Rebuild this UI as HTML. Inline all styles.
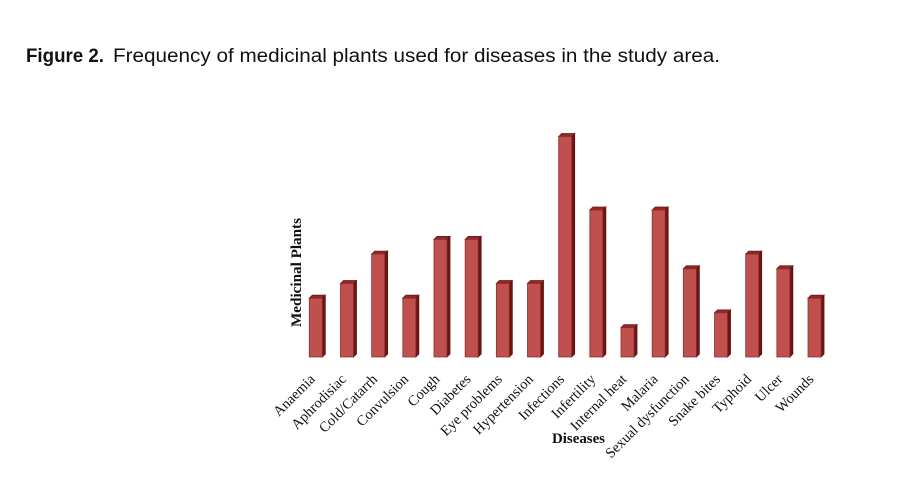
<!DOCTYPE html>
<html>
<head>
<meta charset="utf-8">
<style>
  html, body { margin:0; padding:0; background:#ffffff; }
  body { width:898px; height:491px; overflow:hidden; }
  svg { display:block; }
</style>
</head>
<body>
<svg width="898" height="491" viewBox="0 0 898 491" xmlns="http://www.w3.org/2000/svg">
  <rect x="0" y="0" width="898" height="491" fill="#ffffff"/>
  <!-- Title -->
  <text x="26" y="62" font-family="Liberation Sans, sans-serif" font-size="19" font-weight="bold" fill="#111" textLength="78" lengthAdjust="spacingAndGlyphs">Figure 2.</text>
  <text x="113" y="62" font-family="Liberation Sans, sans-serif" font-size="19" fill="#111" textLength="607" lengthAdjust="spacingAndGlyphs">Frequency of medicinal plants used for diseases in the study area.</text>

  <!-- Y axis label -->
  <text transform="translate(301,272.5) rotate(-90)" text-anchor="middle" font-family="Liberation Serif, serif" font-size="14.5" font-weight="bold" fill="#111" textLength="109" lengthAdjust="spacingAndGlyphs">Medicinal  Plants</text>

  <!-- X axis label -->
  <text x="552" y="443" font-family="Liberation Serif, serif" font-size="14.5" font-weight="bold" fill="#111" textLength="53" lengthAdjust="spacingAndGlyphs">Diseases</text>

  <g id="bars"></g>
  <g id="labels" font-family="Liberation Serif, serif" font-size="14.5" fill="#111"></g>

  <!-- Bars (static) -->
  <g stroke-linejoin="round">
    <!-- generated geometry: front x, width 13, depth 3, base 357, unit 14.7 -->
  </g>
</svg>
<script>
(function(){
  var ns="http://www.w3.org/2000/svg";
  var names=["Anaemia","Aphrodisiac","Cold/Catarrh","Convulsion","Cough","Diabetes","Eye problems","Hypertension","Infections","Infertility","Internal heat","Malaria","Sexual dysfunction","Snake bites","Typhoid","Ulcer","Wounds"];
  var vals=[4,5,7,4,8,8,5,5,15,10,2,10,6,3,7,6,4];
  var bars=document.getElementById("bars");
  var labels=document.getElementById("labels");
  var x0=309.3, step=31.17, w=13, d=3, base=357, unit=14.7;
  function poly(pts,fill,stroke){
    var p=document.createElementNS(ns,"polygon");
    p.setAttribute("points",pts.map(function(a){return a[0].toFixed(2)+","+a[1].toFixed(2);}).join(" "));
    p.setAttribute("fill",fill);
    if(stroke){p.setAttribute("stroke",stroke);p.setAttribute("stroke-width","0.8");}
    bars.appendChild(p);
  }
  for(var i=0;i<vals.length;i++){
    var x=x0+i*step, top=base-vals[i]*unit;
    // side
    poly([[x+w,top],[x+w+d,top-d],[x+w+d,base-d],[x+w,base]],"#6e1614","#5a100f");
    // top
    poly([[x,top],[x+d,top-d],[x+w+d,top-d],[x+w,top]],"#8e2a28","#6e1614");
    // front
    poly([[x,top],[x+w,top],[x+w,base],[x,base]],"#c0504d","#8c2e2b");
    // label
    var cx=x+w/2;
    var t=document.createElementNS(ns,"text");
    t.setAttribute("transform","translate("+cx.toFixed(2)+",380) rotate(-45)");
    t.setAttribute("text-anchor","end");
    t.textContent=names[i];
    labels.appendChild(t);
  }
})();
</script>
</body>
</html>
